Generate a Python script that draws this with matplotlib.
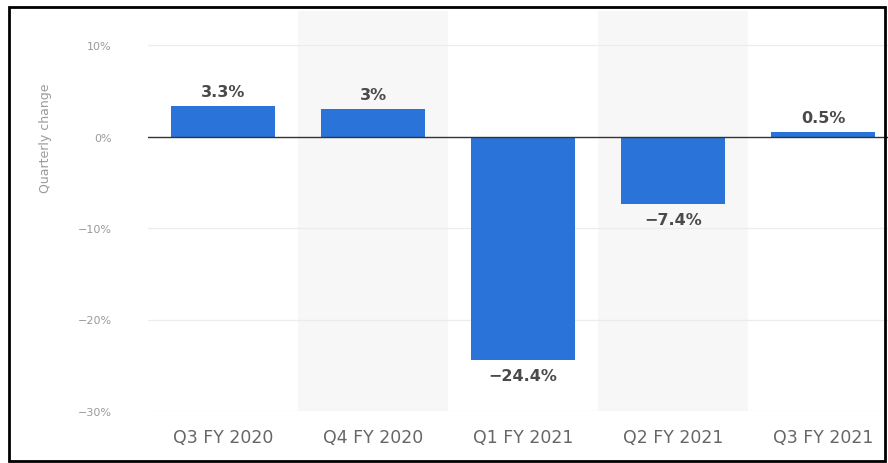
import matplotlib
matplotlib.use("Agg")
import matplotlib.pyplot as plt
from matplotlib.patches import Rectangle

categories = ["Q3 FY 2020", "Q4 FY 2020", "Q1 FY 2021", "Q2 FY 2021", "Q3 FY 2021"]
values = [3.3, 3.0, -24.4, -7.4, 0.5]
labels = ["3.3%", "3%", "-24.4%", "-7.4%", "0.5%"]
yticks = [10, 0, -10, -20, -30]
ytick_labels = ["10%", "0%", "-10%", "-20%", "-30%"]

plt.rcParams['font.family'] = ['DejaVu Sans']

W, H = 888, 464
fig = plt.figure(figsize=(W / 100, H / 100), dpi=100)
# axes in pixel coordinates
left, right, top, bottom = 148, 888, 12, 412
ax = fig.add_axes([left / W, 1 - bottom / H, (right - left) / W, (bottom - top) / H])

cat_w = 150.0
x = list(range(len(categories)))
ax.set_xlim(-0.5, (right - left) / cat_w - 0.5)
px_per_unit = (412 - 46) / 40.0
ax.set_ylim(-30, 10 + (46 - top) / px_per_unit)

# alternating bands
for i in x:
    if i % 2 == 1:
        ax.axvspan(i - 0.5, i + 0.5, color="#f7f7f7", zorder=0, lw=0)

for t in yticks:
    if t != 0:
        ax.axhline(t, color="#ececec", lw=0.9, zorder=1)

bar_color = "#2a73d9"
ax.bar(x, values, width=0.69, color=bar_color, zorder=2)
ax.axhline(0, color="#333333", lw=1.0, zorder=3)

for i, (v, lab) in enumerate(zip(values, labels)):
    if v >= 0:
        ax.text(i, v + 0.8, lab.replace("-", "\u2212"), ha="center", va="bottom",
                fontsize=11.5, fontweight="bold", color="#4a4a4a", zorder=4)
    else:
        ax.text(i, v - 0.9, lab.replace("-", "\u2212"), ha="center", va="top",
                fontsize=11.5, fontweight="bold", color="#4a4a4a", zorder=4)

ax.set_yticks(yticks)
ax.set_yticklabels([s.replace("-", "\u2212") for s in ytick_labels], fontsize=8, color="#9a9a9a")
ax.set_xticks(x)
ax.set_xticklabels(categories, fontsize=12.5, color="#666666")
ax.tick_params(axis="both", length=0)
ax.tick_params(axis="y", pad=26)
ax.tick_params(axis="x", pad=12)
for s in ax.spines.values():
    s.set_visible(False)

fig.text(45 / W, 1 - 138 / H, "Quarterly change", rotation=90, ha="center", va="center",
         fontsize=9, color="#9a9a9a")

# border frame
fig.patches.append(Rectangle((9 / W, 2 / H), (885 - 9) / W, (456 - 2) / H,
                             transform=fig.transFigure, fill=False,
                             edgecolor="black", lw=2, zorder=10))

fig.savefig("out.png", dpi=100)
